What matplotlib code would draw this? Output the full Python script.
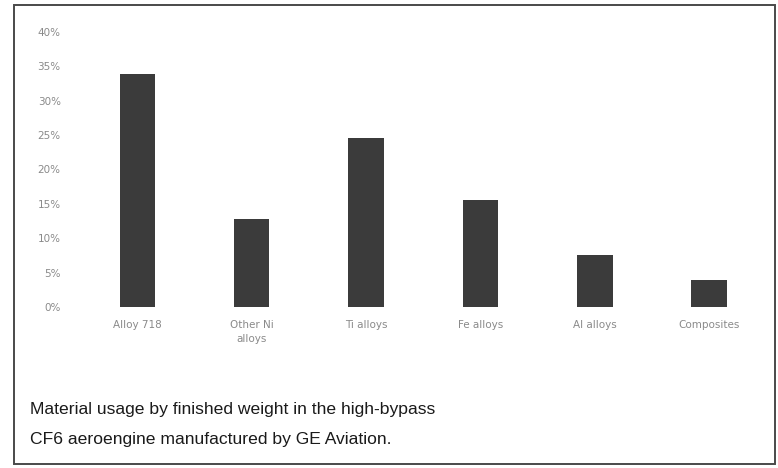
import matplotlib
matplotlib.use("Agg")
from matplotlib import pyplot as plt
import matplotlib.patches as mpatches
from matplotlib.ticker import FuncFormatter

# material usage by finished weight, CF6 engine (percent)
materials = ["Alloy 718", "Other Ni\nalloys", "Ti alloys", "Fe alloys", "Al alloys", "Composites"]
usage_pct = [33.8, 12.8, 24.6, 15.5, 7.5, 3.9]
y_ticks = [0, 5, 10, 15, 20, 25, 30, 35, 40]

caption = ("Material usage by finished weight in the high-bypass\n"
           "CF6 aeroengine manufactured by GE Aviation.")

fig = plt.figure(figsize=(7.78, 4.68), dpi=100)
fig.patch.set_facecolor("white")

# outer frame around chart and caption
frame = mpatches.Rectangle((0.018, 0.008), 0.978, 0.982, transform=fig.transFigure,
                           fill=False, edgecolor="#4a4a4a", linewidth=1.4)
fig.patches.append(frame)

ax = fig.add_axes([0.103, 0.344, 0.882, 0.588])
x = range(len(materials))
ax.bar(x, usage_pct, width=0.31, color="#3b3b3b")

ax.set_ylim(0, 40)
ax.set_xlim(-0.5, len(materials) - 0.5)
ax.set_yticks(y_ticks)
ax.yaxis.set_major_formatter(FuncFormatter(lambda v, _: "%d%%" % v))
ax.set_xticks(list(x))
ax.set_xticklabels(materials)

for spine in ax.spines.values():
    spine.set_visible(False)
ax.tick_params(axis="both", length=0, colors="#8a8a8a", labelsize=7.5)
ax.tick_params(axis="y", pad=14)
ax.tick_params(axis="x", pad=9)
for lbl in ax.get_xticklabels() + ax.get_yticklabels():
    lbl.set_color("#8a8a8a")
    lbl.set_linespacing(1.6)

fig.text(0.038, 0.141, caption, fontsize=12.6, family="Liberation Sans",
         color="#1a1a1a", ha="left", va="top", linespacing=2.25)

fig.savefig("out.png", dpi=100)
